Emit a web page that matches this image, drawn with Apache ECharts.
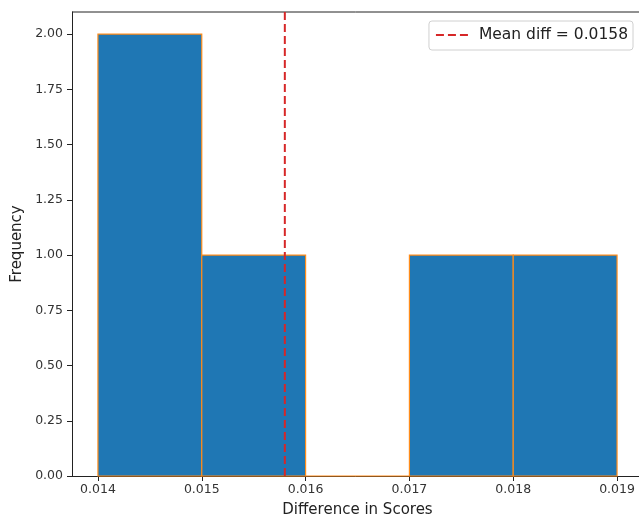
<!DOCTYPE html>
<html><head><meta charset="utf-8">
<script src="https://cdn.jsdelivr.net/npm/echarts@6/dist/echarts.min.js"></script>
<style>html,body{margin:0;padding:0;background:#fff}#c{width:639px;height:517px}</style>
</head><body><div id="c"></div>
<script>
const binEdges = [0.014, 0.015, 0.016, 0.017, 0.018, 0.019];
const counts = [2, 1, 0, 1, 1];
const xTicks = [0.014, 0.015, 0.016, 0.017, 0.018, 0.019];
const yTicks = [0, 0.25, 0.5, 0.75, 1.0, 1.25, 1.5, 1.75, 2.0];
const meanDiff = 0.0158;
const meanLabel = 'Mean diff = 0.0158';

const barData = counts.map((c, i) => [binEdges[i], binEdges[i + 1], c]);
const font = 'DejaVu Sans';
const chart = echarts.init(document.getElementById('c'), null, {renderer: 'canvas'});
chart.setOption({
  animation: false,
  grid: {left: 72, top: 12, right: -4, bottom: 41, containLabel: false, outerBoundsMode: 'none'},
  legend: {
    data: [meanLabel], right: 6, top: 21, orient: 'vertical',
    borderColor: '#d0d0d0', borderWidth: 1, borderRadius: 3, padding: [6, 5, 7, 6],
    itemWidth: 32, itemHeight: 2, itemGap: 5,
    textStyle: {fontFamily: font, fontSize: 15.5, color: '#222', padding: [0, 0, 0, 6]}
  },
  xAxis: {
    type: 'value', min: 0.01375, max: 0.01925,
    name: 'Difference in Scores', nameLocation: 'middle', nameGap: 27,
    nameTextStyle: {fontFamily: font, fontSize: 15, color: '#222'},
    axisLine: {show: true, lineStyle: {color: '#222', width: 1}},
    axisTick: {show: true, length: 5, customValues: xTicks, lineStyle: {color: '#222'}},
    axisLabel: {customValues: xTicks, fontFamily: font, fontSize: 12.5, color: '#333', margin: 7,
      formatter: v => v.toFixed(3)},
    splitLine: {show: false}
  },
  yAxis: {
    type: 'value', min: 0, max: 2.1,
    name: 'Frequency', nameLocation: 'middle', nameGap: 41, nameRotate: 90,
    nameTextStyle: {fontFamily: font, fontSize: 15, color: '#222'},
    axisLine: {show: true, lineStyle: {color: '#222', width: 1}},
    axisTick: {show: true, length: 5, customValues: yTicks, lineStyle: {color: '#222'}},
    axisLabel: {customValues: yTicks, fontFamily: font, fontSize: 12.5, color: '#333', margin: 9,
      formatter: v => v.toFixed(2)},
    splitLine: {show: false}
  },
  series: [
    {
      type: 'custom', name: 'hist', data: barData,
      renderItem: function (params, api) {
        const p0 = api.coord([api.value(0), 0]);
        const p1 = api.coord([api.value(1), api.value(2)]);
        return {
          type: 'rect',
          shape: {x: p0[0], y: p1[1], width: p1[0] - p0[0], height: p0[1] - p1[1]},
          style: {fill: '#1f77b4', stroke: '#ff8c1a', lineWidth: 1.2}
        };
      },
      encode: {x: [0, 1], y: 2}
    },
    {
      type: 'line', name: meanLabel, data: [[meanDiff, 0], [meanDiff, 2.1]],
      symbol: 'none', z: 5,
      lineStyle: {color: '#d62728', type: [8, 4], width: 2},
      itemStyle: {color: '#d62728'}
    }
  ],
  graphic: [
    {type: 'line', shape: {x1: 72, y1: 12, x2: 639, y2: 12}, style: {stroke: '#222', lineWidth: 1}}
  ]
});
</script></body></html>
